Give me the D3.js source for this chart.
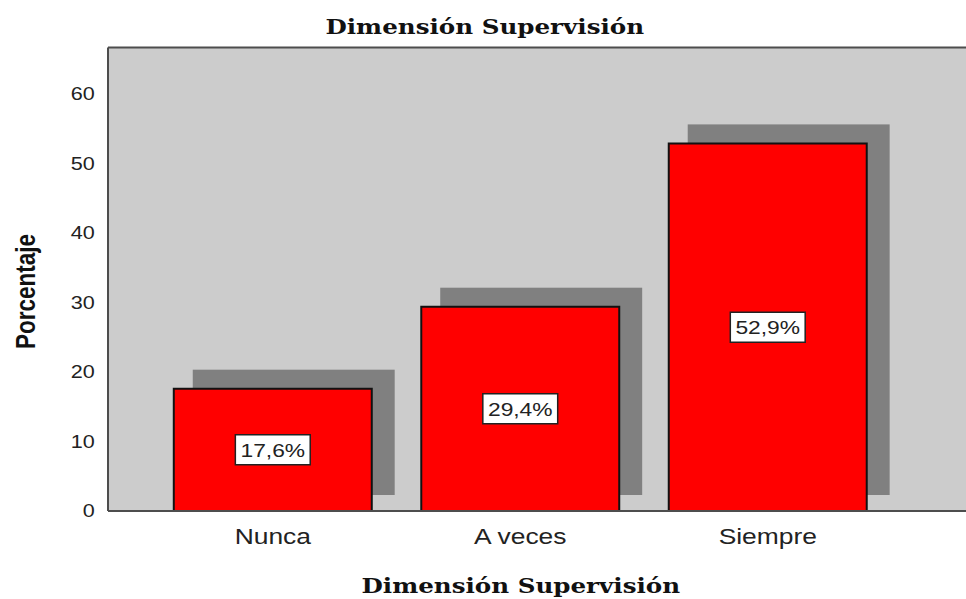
<!DOCTYPE html>
<html>
<head>
<meta charset="utf-8">
<script src="https://cdn.jsdelivr.net/npm/d3@7"></script>
<style>
  html, body { margin: 0; padding: 0; background: #fff; }
  svg { display: block; }
</style>
</head>
<body>
<script>
// Chart data
const categories = ["Nunca", "A veces", "Siempre"];
const percentages = [17.6, 29.4, 52.9];
const yTicks = [0, 10, 20, 30, 40, 50, 60];
const chartTitle = "Dimensión Supervisión";
const xTitle = "Dimensión Supervisión";
const yTitle = "Porcentaje";

// The drawing is laid out in a narrower coordinate space and stretched
// horizontally to the page width.
const W = 966, H = 599, stretch = 1.2;
const vw = W / stretch;

const svg = d3.select("body").append("svg")
  .attr("width", W).attr("height", H)
  .attr("viewBox", `0 0 ${vw} ${H}`)
  .attr("preserveAspectRatio", "none");

const plot = { left: 90, top: 47.5, bottom: 511, right: vw + 4 };

const x = d3.scaleBand()
  .domain(categories)
  .range([124.2, 742.9])
  .paddingInner(0.2)
  .paddingOuter(0.1);

const y = d3.scaleLinear()
  .domain([0, 66.7])
  .range([plot.bottom, plot.top]);

const fmt = v => d3.format(".1f")(v).replace(".", ",") + "%";
const data = categories.map((c, i) => ({ cat: c, value: percentages[i] }));

// Plot background
svg.append("rect")
  .attr("x", plot.left).attr("y", plot.top)
  .attr("width", plot.right - plot.left).attr("height", plot.bottom - plot.top)
  .attr("fill", "#cccccc");

// Frame lines (top, left)
const frame = svg.append("g")
  .attr("stroke", "#4d4d4d").attr("stroke-width", 2);
frame.append("line").attr("x1", plot.left).attr("x2", plot.right)
  .attr("y1", plot.top).attr("y2", plot.top).attr("vector-effect", "non-scaling-stroke");
frame.append("line").attr("x1", plot.left).attr("x2", plot.left)
  .attr("y1", plot.top).attr("y2", plot.bottom).attr("vector-effect", "non-scaling-stroke");

// Drop shadows: offset up and to the right of each bar
const shadow = { dx: 15.8, dw: 3.3, top: 19, bottom: 16 };
svg.append("g").selectAll("rect").data(data).join("rect")
  .attr("x", d => x(d.cat) + shadow.dx)
  .attr("y", d => y(d.value) - shadow.top)
  .attr("width", x.bandwidth() + shadow.dw)
  .attr("height", d => y(0) - y(d.value) + shadow.top - shadow.bottom)
  .attr("fill", "#808080");

// Bars
svg.append("g").selectAll("rect").data(data).join("rect")
  .attr("x", d => x(d.cat))
  .attr("y", d => y(d.value))
  .attr("width", x.bandwidth())
  .attr("height", d => y(0) - y(d.value))
  .attr("fill", "#ff0000")
  .attr("stroke", "#111")
  .attr("stroke-width", 2)
  .attr("vector-effect", "non-scaling-stroke");

// Bottom axis line
svg.append("line")
  .attr("x1", plot.left).attr("x2", plot.right)
  .attr("y1", plot.bottom).attr("y2", plot.bottom)
  .attr("stroke", "#4d4d4d").attr("stroke-width", 2)
  .attr("vector-effect", "non-scaling-stroke");

// Value labels
const labels = svg.append("g").selectAll("g").data(data).join("g")
  .attr("transform", d => `translate(${x(d.cat) + x.bandwidth() / 2},${y(d.value / 2)})`);
labels.append("rect")
  .attr("x", -31.2).attr("y", -15)
  .attr("width", 62.4).attr("height", 30)
  .attr("fill", "#fff").attr("stroke", "#222").attr("stroke-width", 1.5)
  .attr("vector-effect", "non-scaling-stroke");
labels.append("text")
  .attr("text-anchor", "middle")
  .attr("dy", "0.36em")
  .attr("font-family", "'Liberation Sans', Arial, sans-serif")
  .attr("font-size", 19)
  .attr("fill", "#222")
  .text(d => fmt(d.value));

// Y axis
const yAxis = svg.append("g")
  .attr("transform", `translate(${plot.left},0)`)
  .call(d3.axisLeft(y).tickValues(yTicks).tickSize(0).tickPadding(11));
yAxis.select(".domain").remove();
yAxis.selectAll("text")
  .attr("font-family", "'Liberation Sans', Arial, sans-serif")
  .attr("font-size", 18)
  .attr("fill", "#222");

// X axis
const xAxis = svg.append("g")
  .attr("transform", `translate(0,${plot.bottom})`)
  .call(d3.axisBottom(x).tickSize(0).tickPadding(17.5));
xAxis.select(".domain").remove();
xAxis.selectAll("text")
  .attr("font-family", "'Liberation Sans', Arial, sans-serif")
  .attr("font-size", 22)
  .attr("fill", "#222");

// Titles
svg.append("text")
  .attr("x", 404).attr("y", 34)
  .attr("text-anchor", "middle")
  .attr("font-family", "'DejaVu Serif', serif")
  .attr("font-weight", "bold")
  .attr("font-size", 20.5)
  .attr("fill", "#111")
  .text(chartTitle);

svg.append("text")
  .attr("x", 434).attr("y", 593)
  .attr("text-anchor", "middle")
  .attr("font-family", "'DejaVu Serif', serif")
  .attr("font-weight", "bold")
  .attr("font-size", 20.5)
  .attr("fill", "#111")
  .text(xTitle);

svg.append("text")
  .attr("transform", "translate(21.7,291.5) rotate(-90)")
  .attr("text-anchor", "middle")
  .attr("dy", "0.35em")
  .attr("font-family", "'Liberation Sans', Arial, sans-serif")
  .attr("font-weight", "bold")
  .attr("font-size", 22.5)
  .attr("fill", "#111")
  .text(yTitle);
</script>
</body>
</html>
